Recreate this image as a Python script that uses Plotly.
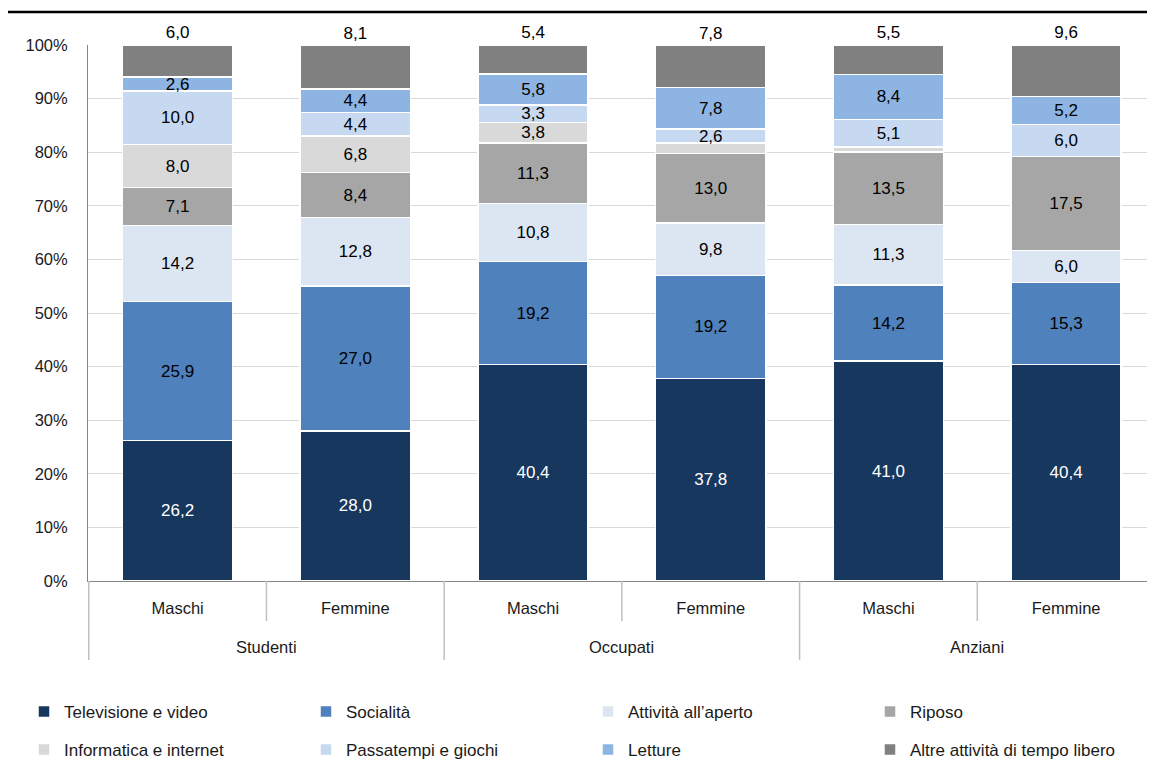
import plotly.graph_objects as go

groups = ["Studenti", "Studenti", "Occupati", "Occupati", "Anziani", "Anziani"]
sexes = ["Maschi", "Femmine", "Maschi", "Femmine", "Maschi", "Femmine"]

series_names = [
    "Televisione e video",
    "Socialità",
    "Attività all\u2019aperto",
    "Riposo",
    "Informatica e internet",
    "Passatempi e giochi",
    "Letture",
    "Altre attività di tempo libero",
]

tv = [26.2, 28.0, 40.4, 37.8, 41.0, 40.4]
socialita = [25.9, 27.0, 19.2, 19.2, 14.2, 15.3]
aperto = [14.2, 12.8, 10.8, 9.8, 11.3, 6.0]
riposo = [7.1, 8.4, 11.3, 13.0, 13.5, 17.5]
informatica = [8.0, 6.8, 3.8, 1.9, 1.0, 0.0]
passatempi = [10.0, 4.4, 3.3, 2.6, 5.1, 6.0]
letture = [2.6, 4.4, 5.8, 7.8, 8.4, 5.2]
altre = [6.0, 8.1, 5.4, 7.8, 5.5, 9.6]

values = [tv, socialita, aperto, riposo, informatica, passatempi, letture, altre]
colors = ["#17375E", "#4F81BD", "#DCE6F2", "#A6A6A6", "#D9D9D9", "#C6D9F1", "#8DB4E2", "#808080"]
text_colors = ["white"] + ["black"] * 7

FONT = "Liberation Sans, Arial, sans-serif"
TXT = "#1a1a1a"

categories = [f"{g}|{s}" for g, s in zip(groups, sexes)]

# page body has an 8px margin: figure is sized/offset to compensate
OFF = 8
PLOT_L, PLOT_T, PLOT_R, PLOT_B = 88, 45, 1155, 581   # plot area in page pixels
PLOT_H = PLOT_B - PLOT_T
PLOT_W = PLOT_R - PLOT_L


def py(ypix):
    return (PLOT_B - ypix) / PLOT_H


def px(xpix):
    return (xpix - PLOT_L) / PLOT_W


def fmt(v):
    return f"{v:.1f}".replace(".", ",")


fig = go.Figure()
for i, (name, vals, col) in enumerate(zip(series_names, values, colors)):
    last = i == len(series_names) - 1
    texts = [fmt(v) if v >= 2 else "" for v in vals]
    fig.add_trace(go.Bar(
        x=categories,
        y=vals,
        name=name,
        legend="legend" if i < 4 else "legend2",
        marker=dict(color=col, line=dict(color="white", width=1.5)),
        text=texts,
        textposition="outside" if last else "inside",
        insidetextanchor="middle",
        constraintext="none",
        cliponaxis=False,
        textfont=dict(family=FONT, size=17, color="black" if last else text_colors[i]),
        insidetextfont=dict(family=FONT, size=17, color=text_colors[i]),
        outsidetextfont=dict(family=FONT, size=17, color="black"),
        hoverinfo="skip",
    ))

legend_common = dict(
    orientation="h",
    xanchor="left",
    yanchor="middle",
    entrywidth=237,
    entrywidthmode="pixels",
    itemwidth=30,
    font=dict(family=FONT, size=17, color=TXT),
    traceorder="normal",
    bgcolor="rgba(0,0,0,0)",
)

W = 1155 - OFF
H = 774 - OFF
fig.update_layout(
    barmode="stack",
    bargap=0.38,
    width=W,
    height=H,
    margin=dict(l=PLOT_L - OFF, r=W - (PLOT_R - OFF), t=PLOT_T - OFF,
                b=H - (PLOT_B - OFF), autoexpand=False),
    paper_bgcolor="white",
    plot_bgcolor="white",
    font=dict(family=FONT, size=16, color=TXT),
    showlegend=True,
    legend=dict(x=px(24), y=py(712), **legend_common),
    legend2=dict(x=px(24), y=py(750), **legend_common),
    xaxis=dict(
        type="category",
        tickvals=categories,
        ticktext=sexes,
        showline=True,
        linecolor="#868686",
        linewidth=1,
        ticks="",
        ticklabelstandoff=12,
        tickfont=dict(family=FONT, size=16.5, color=TXT),
        showgrid=False,
    ),
    yaxis=dict(
        range=[0, 100],
        dtick=10,
        ticksuffix="%",
        showline=True,
        linecolor="#868686",
        linewidth=1,
        showgrid=True,
        gridcolor="#D9D9D9",
        gridwidth=1,
        zeroline=False,
        ticks="",
        ticklabelstandoff=16,
        tickfont=dict(family=FONT, size=16.5, color=TXT),
    ),
)

# group labels and dividers of the two-level category axis
group_names = list(dict.fromkeys(groups))
for gname in group_names:
    idx = [k for k, g in enumerate(groups) if g == gname]
    centre = (idx[0] + idx[-1]) / 2
    fig.add_annotation(x=centre, xref="x", y=py(647), yref="paper",
                       text=gname, showarrow=False, yanchor="middle",
                       font=dict(family=FONT, size=16.5, color=TXT))
    # long divider at the start of each group
    fig.add_shape(type="line", xref="x", yref="paper",
                  x0=idx[0] - 0.5, x1=idx[0] - 0.5, y0=0, y1=py(660),
                  line=dict(color="#BFBFBF", width=1.5))
    # short dividers between members of a group
    for k in idx[1:]:
        fig.add_shape(type="line", xref="x", yref="paper",
                      x0=k - 0.5, x1=k - 0.5, y0=0, y1=py(621),
                      line=dict(color="#BFBFBF", width=1.5))

# decorative top rule
fig.add_shape(type="line", xref="paper", yref="paper",
              x0=px(7), x1=1.0, y0=py(12), y1=py(12),
              line=dict(color="black", width=2.5))

fig.write_html("out.html")
